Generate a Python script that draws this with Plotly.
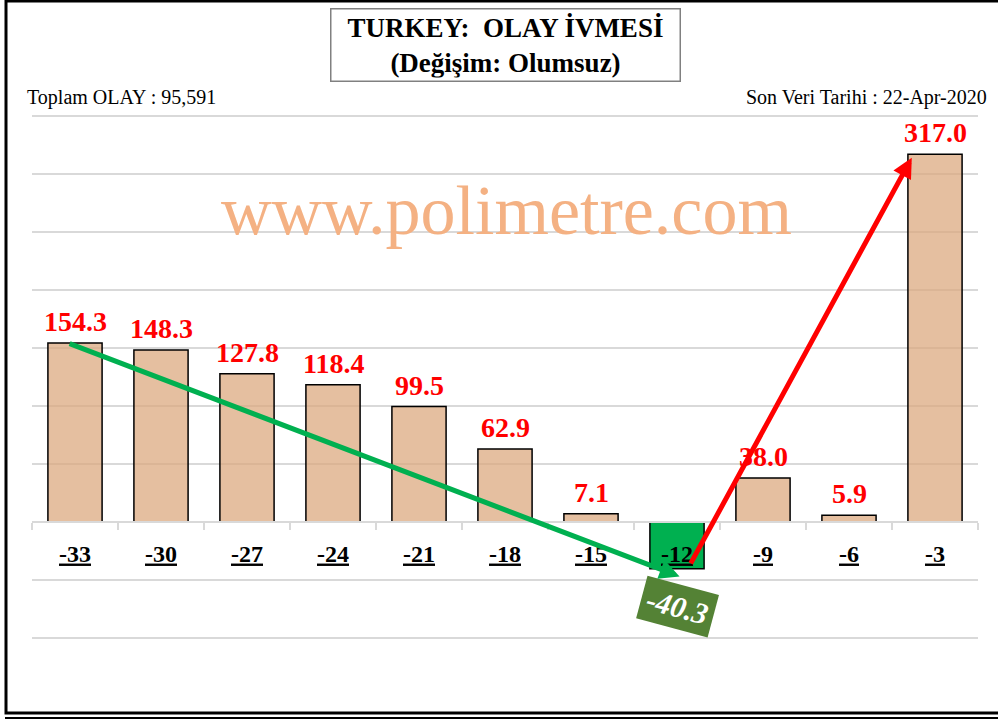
import plotly.graph_objects as go

periods = ["-33", "-30", "-27", "-24", "-21", "-18", "-15", "-12", "-9", "-6", "-3"]
values = [154.3, 148.3, 127.8, 118.4, 99.5, 62.9, 7.1, -40.3, 38.0, 5.9, 317.0]
total_label = "Toplam OLAY : 95,591"
date_label = "Son Veri Tarihi : 22-Apr-2020"

W, H = 998, 720
L, R, T, B = 32, 20, 106, 78
PX_PER_UNIT = 522 / 450          # 50 units -> 58 px, zero line at y=522
Y_MAX = (522 - T) / PX_PER_UNIT
Y_MIN = -((H - B) - 522) / PX_PER_UNIT
FONT = "Liberation Serif, Times New Roman, serif"
BAR = "rgba(219,166,123,0.72)"
NEG_BAR = "#00B050"
GRID = "#D9D9D9"


def px_x(p):
    return (p - L) / (W - L - R)


def px_y(p):
    return (H - B - p) / (H - T - B)


colors = [NEG_BAR if v < 0 else BAR for v in values]
idx = list(range(len(periods)))

fig = go.Figure(
    go.Bar(
        x=periods,
        y=values,
        width=0.63,
        marker=dict(color=colors, line=dict(color="black", width=1.5)),
        hoverinfo="x+y",
    )
)

# value labels
for i, v in zip(idx, values):
    if v >= 0:
        fig.add_annotation(
            x=i, y=v, text=f"<b>{v:.1f}</b>", showarrow=False, yanchor="bottom", yshift=4,
            font=dict(family=FONT, size=28, color="#FF0000"),
        )
    else:
        fig.add_annotation(
            x=i, y=v, text=f"<b><i>{v:.1f}</i></b>", showarrow=False, yanchor="middle", yshift=-38, xshift=0,
            textangle=15, bgcolor="#548235", borderpad=5,
            font=dict(family=FONT, size=30, color="white"),
        )

# trend arrows
fig.add_annotation(
    x=7.03, y=-47, ax=-0.08, ay=154.3, xref="x", yref="y", axref="x", ayref="y",
    text="", showarrow=True, arrowhead=2, arrowsize=0.8, arrowwidth=5, arrowcolor="#00B050", standoff=0,
)
fig.add_annotation(
    x=9.73, y=314, ax=7.15, ay=-37, xref="x", yref="y", axref="x", ayref="y",
    text="", showarrow=True, arrowhead=2, arrowsize=0.8, arrowwidth=5, arrowcolor="#FF0000", standoff=0,
)

# watermark
fig.add_annotation(
    x=px_x(506), y=px_y(210), xref="paper", yref="paper", text="www.polimetre.com", showarrow=False,
    xanchor="center", yanchor="middle", font=dict(family=FONT, size=70, color="#F4B183"),
)

# title box
fig.add_annotation(
    x=px_x(505), y=px_y(45), xref="paper", yref="paper",
    text="<b>TURKEY:\u00a0 OLAY İVMESİ</b><br><b>(Değişim: Olumsuz)</b>",
    showarrow=False, xanchor="center", yanchor="middle",
    bordercolor="#808080", borderwidth=1.5, borderpad=3, width=342,
    bgcolor="white", font=dict(family=FONT, size=27, color="black"),
)
fig.add_annotation(
    x=px_x(25), y=px_y(98), xref="paper", yref="paper", text=total_label, showarrow=False,
    xanchor="left", yanchor="middle", font=dict(family=FONT, size=20, color="black"),
)
fig.add_annotation(
    x=px_x(989), y=px_y(98), xref="paper", yref="paper", text=date_label, showarrow=False,
    xanchor="right", yanchor="middle", font=dict(family=FONT, size=20, color="black"),
)

# outer frame
fig.add_shape(type="rect", xref="paper", yref="paper", x0=px_x(6), x1=px_x(1010), y0=px_y(1), y1=px_y(713),
              line=dict(color="black", width=3))
fig.add_shape(type="line", xref="paper", yref="paper", x0=px_x(5), x1=px_x(1010), y0=px_y(718), y1=px_y(718),
              line=dict(color="black", width=2))

fig.update_layout(
    width=W, height=H,
    margin=dict(l=L, r=R, t=T, b=B),
    paper_bgcolor="white", plot_bgcolor="white",
    showlegend=False,
    font=dict(family=FONT, color="black"),
)
fig.update_yaxes(
    range=[Y_MIN, Y_MAX], dtick=50, tick0=0, showgrid=True, gridcolor=GRID, gridwidth=1.5,
    showticklabels=False, zeroline=False, showline=False, automargin=False,
)
fig.update_xaxes(
    type="category", range=[-0.5, len(periods) - 0.5], anchor="free", position=-Y_MIN / (Y_MAX - Y_MIN),
    showline=True, linecolor=GRID, linewidth=1.5, automargin=False,
    ticks="outside", tickson="boundaries", ticklen=7, tickcolor=GRID, tickwidth=1.5,
    tickvals=periods, ticktext=[f"<b><u>{p}</u></b>" for p in periods], tickangle=0,
    tickfont=dict(family=FONT, size=24, color="black"), ticklabelstandoff=10,
    showgrid=False,
)

fig.write_html("out.html", config={"displayModeBar": False},
               post_script="document.body.style.margin='0';")
